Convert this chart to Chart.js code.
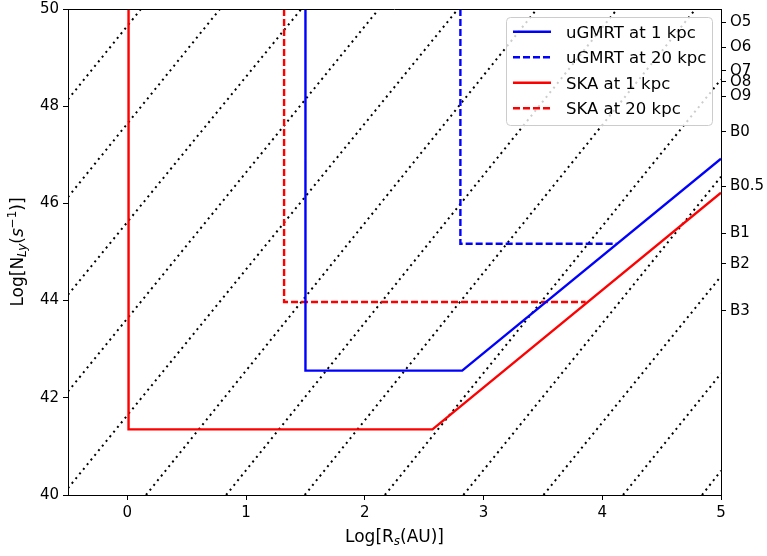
<!DOCTYPE html>
<html>
<head>
<meta charset="utf-8">
<script src="https://cdn.jsdelivr.net/npm/chart.js@4"></script>
<style>
  html, body { margin: 0; padding: 0; background: #fff; }
  #wrap { width: 767px; height: 556px; }
</style>
</head>
<body>
<div id="wrap"><canvas id="ChartStromgren"></canvas></div>
<script>
// axis ticks
const xTicks = [0, 1, 2, 3, 4, 5];
const yTicks = [40, 42, 44, 46, 48, 50];
const spectralTypes = ['O5', 'O6', 'O7', 'O8', 'O9', 'B0', 'B0.5', 'B1', 'B2', 'B3'];
const spectralLogN = [49.73, 49.21, 48.73, 48.50, 48.20, 47.47, 46.35, 45.39, 44.76, 43.79];

// detection limits
const ugmrt1X = [1.50, 1.50, 2.82, 5.00];
const ugmrt1Y = [50.00, 42.56, 42.56, 46.92];
const ugmrt20X = [2.805, 2.805, 4.12];
const ugmrt20Y = [50.00, 45.17, 45.17];
const ska1X = [0.01, 0.01, 2.57, 5.00];
const ska1Y = [50.00, 41.35, 41.35, 46.22];
const ska20X = [1.32, 1.32, 3.86];
const ska20Y = [50.00, 43.97, 43.97];

// dotted guide lines (start / end points)
const guideX0 = [-0.5, -0.5, -0.5, -0.5, -0.5, 0.157, 0.832, 1.494, 2.169, 2.83, 3.505, 4.175, 4.84];
const guideY0 = [48.14, 46.13, 44.12, 42.13, 40.14, 40, 40, 40, 40, 40, 40, 40, 40];
const guideX1 = [0.115, 0.78, 1.465, 2.118, 2.785, 3.45, 4.126, 4.786, 5, 5, 5, 5, 5];
const guideY1 = [50, 50, 50, 50, 50, 50, 50, 50, 48.55, 46.55, 44.5, 42.5, 40.5];

function toPoints(xs, ys) {
    const pts = [];
    for (var i = 0; i < xs.length; i++) {
        pts.push({ x: xs[i], y: ys[i] });
    }
    return pts;
}

const datasets = [
    { label: 'uGMRT at 1 kpc', data: toPoints(ugmrt1X, ugmrt1Y), borderColor: '#0000ff', borderDash: [] },
    { label: 'uGMRT at 20 kpc', data: toPoints(ugmrt20X, ugmrt20Y), borderColor: '#0000ff', borderDash: [7, 3] },
    { label: 'SKA at 1 kpc', data: toPoints(ska1X, ska1Y), borderColor: '#ff0000', borderDash: [] },
    { label: 'SKA at 20 kpc', data: toPoints(ska20X, ska20Y), borderColor: '#ff0000', borderDash: [7, 3] }
].map(function (d) {
    return Object.assign(d, { showLine: true, borderWidth: 2.4, pointRadius: 0, tension: 0, fill: false, legendEntry: true });
});

for (var g = 0; g < guideX0.length; g++) {
    datasets.push({
        label: 'guide ' + g,
        data: [{ x: guideX0[g], y: guideY0[g] }, { x: guideX1[g], y: guideY1[g] }],
        showLine: true,
        borderColor: '#000000',
        borderWidth: 2,
        borderDash: [2, 4],
        pointRadius: 0,
        fill: false,
        legendEntry: false
    });
}

const FONT = 'DejaVu Sans';

function drawRich(ctx, parts, size) {
    // measure total width first
    var total = 0;
    parts.forEach(function (p) {
        const s = p.sub || p.sup ? size * 0.7 : size;
        ctx.font = (p.italic ? 'italic ' : '') + s + 'px "' + FONT + '"';
        p.w = ctx.measureText(p.t).width;
        p.s = s;
        total += p.w;
    });
    var x = -total / 2;
    parts.forEach(function (p) {
        ctx.font = (p.italic ? 'italic ' : '') + p.s + 'px "' + FONT + '"';
        var dy = 0;
        if (p.sub) dy = size * 0.22;
        if (p.sup) dy = -size * 0.38;
        ctx.fillText(p.t, x, dy);
        x += p.w;
    });
}

const framePlugin = {
    id: 'frame',
    afterDraw: function (chart) {
        const ctx = chart.ctx;
        const a = chart.chartArea;
        ctx.save();
        ctx.strokeStyle = '#000';
        ctx.lineWidth = 1;
        ctx.beginPath();
        ctx.moveTo(a.left, a.top + 0.5);
        ctx.lineTo(a.right, a.top + 0.5);
        ctx.stroke();

        ctx.fillStyle = '#000';
        ctx.textBaseline = 'middle';
        ctx.textAlign = 'left';
        // x title
        ctx.save();
        ctx.translate((a.left + a.right) / 2, 538);
        drawRich(ctx, [{ t: 'Log[R' }, { t: 's', sub: true, italic: true }, { t: '(AU)]' }], 17);
        ctx.restore();
        // y title
        ctx.save();
        ctx.translate(19, (a.top + a.bottom) / 2);
        ctx.rotate(-Math.PI / 2);
        drawRich(ctx, [{ t: 'Log[N' }, { t: 'Ly', sub: true, italic: true }, { t: '(' }, { t: 's', italic: true },
            { t: '\u22121', sup: true }, { t: ')]' }], 17);
        ctx.restore();
        ctx.restore();
    }
};

const legendPlugin = {
    id: 'boxLegend',
    afterDatasetsDraw: function (chart) {
        const ctx = chart.ctx;
        const entries = chart.data.datasets.filter(function (d) { return d.legendEntry; });
        const bx = 506, by = 17, bw = 206, bh = 108;
        ctx.save();
        ctx.beginPath();
        ctx.roundRect(bx + 0.5, by + 0.5, bw, bh, 4);
        ctx.fillStyle = 'rgba(255,255,255,0.8)';
        ctx.fill();
        ctx.strokeStyle = '#cccccc';
        ctx.lineWidth = 1;
        ctx.stroke();
        ctx.font = '16.5px "' + FONT + '"';
        ctx.textBaseline = 'middle';
        ctx.fillStyle = '#000';
        entries.forEach(function (d, i) {
            const y = 31.7 + i * 25.5;
            ctx.beginPath();
            ctx.setLineDash(d.borderDash);
            ctx.strokeStyle = d.borderColor;
            ctx.lineWidth = d.borderWidth;
            ctx.moveTo(513, y);
            ctx.lineTo(551, y);
            ctx.stroke();
            ctx.setLineDash([]);
            ctx.fillText(d.label, 566, y + 2);
        });
        ctx.restore();
    }
};

const axisCommon = {
    grid: { drawOnChartArea: false, drawTicks: true, tickLength: 5, color: '#000' },
    border: { display: true, color: '#000', width: 1 },
    ticks: { color: '#000', font: { family: FONT, size: 15 }, padding: 4, autoSkip: false, maxRotation: 0 }
};

function fitVertical(width) {
    return function (s) {
        s.width = width;
        s.paddingTop = 0;
        s.paddingBottom = 0;
    };
}

const config = {
    type: 'scatter',
    data: { datasets: datasets },
    options: {
        responsive: false,
        animation: false,
        layout: { padding: { top: 9, left: 0, right: 0, bottom: 0 } },
        plugins: { legend: { display: false }, tooltip: { enabled: false } },
        scales: {
            x: Object.assign({}, axisCommon, {
                type: 'linear', min: -0.5, max: 5,
                afterBuildTicks: function (s) { s.ticks = xTicks.map(function (v) { return { value: v }; }); },
                afterFit: function (s) { s.height = 61; s.paddingLeft = 0; s.paddingRight = 0; }
            }),
            y: Object.assign({}, axisCommon, {
                type: 'linear', min: 40, max: 50, position: 'left',
                afterBuildTicks: function (s) { s.ticks = yTicks.map(function (v) { return { value: v }; }); },
                afterFit: fitVertical(68)
            }),
            y2: Object.assign({}, axisCommon, {
                type: 'linear', min: 40, max: 50, position: 'right',
                ticks: Object.assign({}, axisCommon.ticks, {
                    callback: function (v, i) { return spectralTypes[i]; }
                }),
                afterBuildTicks: function (s) { s.ticks = spectralLogN.map(function (v) { return { value: v }; }); },
                afterFit: fitVertical(46)
            })
        }
    },
    plugins: [framePlugin, legendPlugin]
};

const canvas = document.getElementById('ChartStromgren');
canvas.width = 767;
canvas.height = 556;
const myChart = new Chart(canvas, config);
</script>
</body>
</html>
